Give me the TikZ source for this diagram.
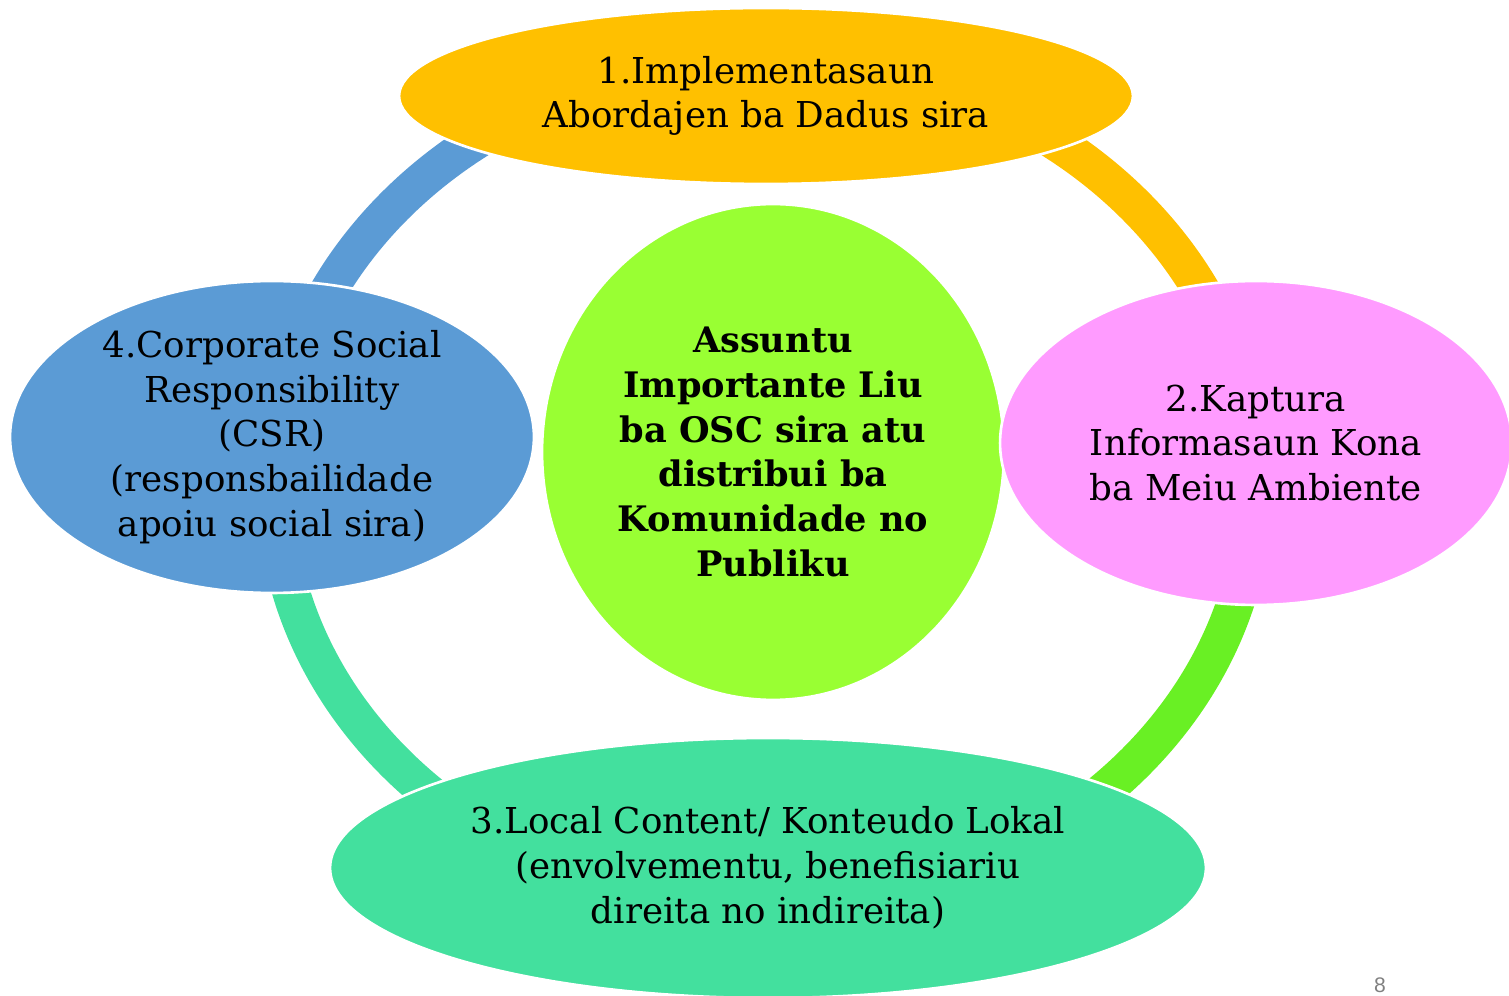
\documentclass[tikz,border=0pt]{standalone}
\usepackage{fontspec}
\setmainfont{DejaVu Serif}
\newfontfamily\pagefont{Liberation Sans}
\usetikzlibrary{shapes.geometric, calc}
\definecolor{implorange}{HTML}{FFC000}
\definecolor{kaptpink}{HTML}{FF9BFF}
\definecolor{lokalteal}{HTML}{43E09E}
\definecolor{csrblue}{HTML}{5B9BD5}
\definecolor{centergreen}{HTML}{99FF33}
\definecolor{linkgreen}{HTML}{69F024}

\begin{document}
\begin{tikzpicture}[x=0.02cm, y=-0.02cm,
        bubble/.style={ellipse, draw=white, line width=1.5pt, inner sep=0pt, align=center,
            font=\fontsize{20.3}{25.5}\selectfont},
        link/.style={line width=0.75cm},
        ringarc/.style={x radius=9.8cm, y radius=8.5cm}]
    \useasboundingbox (0,0) rectangle (1509,996);
    \coordinate (O) at (765,484);
    \coordinate (rtop) at ($(O)+(90:9.8cm and 8.5cm)$);
    \coordinate (rright) at ($(O)+(0:9.8cm and 8.5cm)$);
    \coordinate (rbottom) at ($(O)+(-90:9.8cm and 8.5cm)$);
    \coordinate (rleft) at ($(O)+(180:9.8cm and 8.5cm)$);
    % ring
    \draw[link, csrblue] (rleft) arc[ringarc, start angle=180, end angle=90];
    \draw[link, implorange] (rtop) arc[ringarc, start angle=90, end angle=0];
    \draw[link, linkgreen] (rright) arc[ringarc, start angle=0, end angle=-90];
    \draw[link, lokalteal] (rbottom) arc[ringarc, start angle=-90, end angle=-180];
    % bubbles
    \node[bubble, fill=centergreen, minimum width=9.24cm, minimum height=9.92cm, font=\fontsize{20}{25.5}\selectfont\bfseries]
        (assuntu) at (773,452) {Assuntu\\Importante Liu\\ba OSC sira atu\\distribui ba\\Komunidade no\\Publiku};
    \node[bubble, fill=implorange, minimum width=14.68cm, minimum height=3.52cm]
        (impl) at (766,96) {1.Implementasaun\\Abordajen ba Dadus sira};
    \node[bubble, fill=kaptpink, minimum width=10.24cm, minimum height=6.48cm]
        (kapt) at (1256,443) {2.Kaptura\\Informasaun Kona\\ba Meiu Ambiente};
    \node[bubble, fill=lokalteal, minimum width=17.52cm, minimum height=5.2cm]
        (lokal) at (768,868) {3.Local Content/ Konteudo Lokal\\(envolvementu, benefisiariu\\direita no indireita)};
    \node[bubble, fill=csrblue, minimum width=10.48cm, minimum height=6.24cm]
        (csr) at (272,437) {4.Corporate Social\\Responsibility\\(CSR)\\(responsbailidade\\apoiu social sira)};
    \node[text=gray, font=\pagefont\fontsize{12}{14}\selectfont] (page) at (1380,985) {8};
\end{tikzpicture}
\end{document}
